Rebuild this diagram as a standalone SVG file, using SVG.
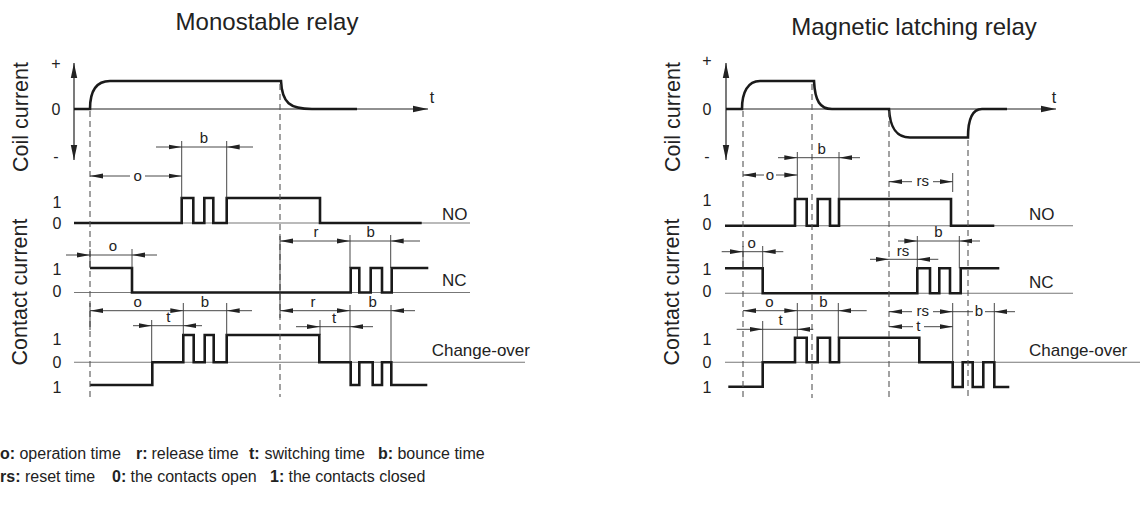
<svg xmlns="http://www.w3.org/2000/svg" width="1145" height="512" viewBox="0 0 1145 512">
<style>
text{font-family:"Liberation Sans",Arial,sans-serif;fill:#222}
.ttl{font-size:24px;text-anchor:middle}
.ax{font-size:21.5px;text-anchor:middle}
.lv{font-size:16px;text-anchor:middle}
.dt{font-size:15px;text-anchor:middle}
.nm{font-size:17px}
.lg{font-size:16px}
.lg .k{font-weight:bold}
.tr{fill:none;stroke:#1a1a1a;stroke-width:2.6;stroke-linejoin:miter}
.bl{stroke:#777;stroke-width:1.1;fill:none}
.axl{stroke:#222;stroke-width:1.2;fill:none}
.ds{stroke:#555;stroke-width:1.1;stroke-dasharray:6 4;fill:none}
.ex{stroke:#333;stroke-width:0.9;fill:none}
.dm{stroke:#333;stroke-width:0.9;fill:none}
.dm.a{marker-end:url(#ah)}
.dm.aa{marker-start:url(#ah);marker-end:url(#ah)}
.axl.a{marker-end:url(#big)}
.axl.aa{marker-start:url(#big);marker-end:url(#big)}
</style>
<defs>
<marker id="ah" markerUnits="userSpaceOnUse" markerWidth="14" markerHeight="6" refX="13" refY="3" orient="auto-start-reverse" viewBox="0 0 14 6"><path d="M0,0.6 L13,3 L0,5.4 z" fill="#222"/></marker>
<marker id="big" markerUnits="userSpaceOnUse" markerWidth="16" markerHeight="8" refX="15" refY="4" orient="auto-start-reverse" viewBox="0 0 16 8"><path d="M0,0.8 L15,4 L0,7.2 z" fill="#222"/></marker>
</defs>

<g id="titles">
<text class="ttl" x="267" y="30">Monostable relay</text>
<text class="ttl" x="914" y="35">Magnetic latching relay</text>
</g>

<!-- ============ LEFT: Monostable relay ============ -->
<g id="left-coil">
<text class="ax" transform="translate(28,117) rotate(-90)">Coil current</text>
<text class="lv" x="56" y="69">+</text>
<text class="lv" x="56" y="115">0</text>
<text class="lv" x="56" y="162">-</text>
<text class="lv" x="432" y="103">t</text>
<line class="axl aa" x1="74" y1="63" x2="74" y2="160"/>
<line class="axl a" x1="74" y1="109" x2="428" y2="109"/>
<path class="tr" d="M74,109 H90 C90,92 96,81 110,81 H281 C282,103 290,109 312,109 H357"/>
</g>

<g id="left-no">
<line class="bl" x1="74" y1="223" x2="470" y2="223"/>
<path class="tr" d="M74,223 H181.7 V198 H193.3 V223 H204.3 V198 H213.3 V223 H226.7 V198 H320 V223 H421.7"/>
<text class="lv" x="57" y="208">1</text>
<text class="lv" x="57" y="229">0</text>
<text class="nm" x="442" y="220">NO</text>
</g>

<g id="left-nc">
<line class="bl" x1="74" y1="292.5" x2="470" y2="292.5"/>
<path class="tr" d="M90,268 H132 V292.5 H350.7 V268 H359.3 V292.5 H370.7 V268 H382 V292.5 H391.7 V268 H428.3"/>
<text class="lv" x="57" y="275">1</text>
<text class="lv" x="57" y="297">0</text>
<text class="nm" x="442" y="286">NC</text>
</g>

<g id="left-co">
<text class="ax" transform="translate(27,292) rotate(-90)">Contact current</text>
<line class="bl" x1="74" y1="362.3" x2="525" y2="362.3"/>
<path class="tr" d="M90,385 H152.3 V362.3 H183.3 V335 H193.7 V362.3 H204.7 V335 H213.7 V362.3 H226.7 V335 H319.3 V362.3 H350.7 V385 H359.3 V362.3 H372.7 V385 H382 V362.3 H391.3 V385 H427.3"/>
<text class="lv" x="57" y="345">1</text>
<text class="lv" x="57" y="368">0</text>
<text class="lv" x="57" y="393">1</text>
<text class="nm" x="431.7" y="356">Change-over</text>
</g>

<!-- ============ RIGHT: Magnetic latching relay ============ -->
<g id="right-coil">
<text class="ax" transform="translate(680,117) rotate(-90)">Coil current</text>
<text class="lv" x="707" y="66">+</text>
<text class="lv" x="707" y="115">0</text>
<text class="lv" x="707" y="162">-</text>
<text class="lv" x="1054" y="103">t</text>
<line class="axl aa" x1="726" y1="63" x2="726" y2="160"/>
<line class="axl a" x1="726" y1="109" x2="1056" y2="109"/>
<path class="tr" d="M726,109 H742 C742,92 748,81 760,81 H814 C815,101 820,109 832,109 H889 C890,126 895,137.5 910,137.5 H968 C968,120 972,109 982,109 H1007"/>
</g>

<g id="right-no">
<line class="bl" x1="725" y1="225.7" x2="1073" y2="225.7"/>
<path class="tr" d="M725,225.7 H795 V199 H806.7 V225.7 H817.7 V199 H830 V225.7 H839 V199 H951 V225.7 H994.3"/>
<text class="lv" x="707" y="206">1</text>
<text class="lv" x="707" y="230">0</text>
<text class="nm" x="1029" y="219.5">NO</text>
</g>

<g id="right-nc">
<line class="bl" x1="725" y1="293.3" x2="1073" y2="293.3"/>
<path class="tr" d="M725,268.3 H762.7 V293.3 H917.3 V268.3 H930 V293.3 H939.3 V268.3 H950 V293.3 H960.7 V268.3 H999.3"/>
<text class="lv" x="707" y="275">1</text>
<text class="lv" x="707" y="297">0</text>
<text class="nm" x="1029" y="288">NC</text>
</g>

<g id="right-co">
<text class="ax" transform="translate(679,292) rotate(-90)">Contact current</text>
<line class="bl" x1="725" y1="362.3" x2="1140" y2="362.3"/>
<path class="tr" d="M728.3,386.7 H762.7 V362.3 H795 V337.7 H806.7 V362.3 H817.7 V337.7 H830 V362.3 H839 V337.7 H919.3 V362.3 H952.7 V387 H962.7 V362.3 H972.7 V387 H983.3 V362.3 H994.3 V387 H1009.3"/>
<text class="lv" x="707" y="345">1</text>
<text class="lv" x="707" y="368">0</text>
<text class="lv" x="707" y="393">1</text>
<text class="nm" x="1029" y="356">Change-over</text>
</g>

<!-- ============ Connectors: timing lines and dimensions ============ -->
<g id="connectors">
<line class="ds" x1="90" y1="111" x2="90" y2="397"/>
<line class="ds" x1="280" y1="84" x2="280" y2="397"/>
<line class="ds" x1="743" y1="111" x2="743" y2="398"/>
<line class="ds" x1="812" y1="84" x2="812" y2="398"/>
<line class="ds" x1="889" y1="111" x2="889" y2="398"/>
<line class="ds" x1="968" y1="140" x2="968" y2="398"/>

<!-- LEFT NO: b and o -->
<line class="ex" x1="181.7" y1="141" x2="181.7" y2="198"/>
<line class="ex" x1="226.7" y1="141" x2="226.7" y2="198"/>
<line class="dm a" x1="156" y1="147" x2="181.7" y2="147"/>
<line class="dm" x1="181.7" y1="147" x2="226.7" y2="147"/>
<line class="dm a" x1="253" y1="147" x2="226.7" y2="147"/>
<text class="dt" x="204" y="143">b</text>
<line class="dm a" x1="130" y1="176" x2="90" y2="176"/>
<line class="dm a" x1="145" y1="176" x2="181.7" y2="176"/>
<text class="dt" x="137.7" y="180.5">o</text>

<!-- LEFT NC: o, r, b -->
<line class="ex" x1="90" y1="249" x2="90" y2="268"/>
<line class="ex" x1="132" y1="249" x2="132" y2="268"/>
<line class="dm a" x1="66" y1="255" x2="90" y2="255"/>
<line class="dm" x1="90" y1="255" x2="132" y2="255"/>
<line class="dm a" x1="157" y1="255" x2="132" y2="255"/>
<text class="dt" x="113" y="251">o</text>
<line class="ex" x1="280" y1="236" x2="280" y2="318"/>
<line class="ex" x1="350" y1="235" x2="350" y2="268"/>
<line class="ex" x1="390.7" y1="235" x2="390.7" y2="268"/>
<line class="dm aa" x1="280" y1="241" x2="350" y2="241"/>
<line class="dm" x1="350" y1="241" x2="390.7" y2="241"/>
<line class="dm a" x1="420" y1="241" x2="390.7" y2="241"/>
<text class="dt" x="316" y="237">r</text>
<text class="dt" x="370.7" y="237">b</text>

<!-- LEFT Change-over -->
<line class="ex" x1="90" y1="303" x2="90" y2="330"/>
<line class="ex" x1="183.3" y1="303" x2="183.3" y2="335"/>
<line class="ex" x1="226.7" y1="303" x2="226.7" y2="335"/>
<line class="ex" x1="151.7" y1="320" x2="151.7" y2="362.3"/>
<line class="dm aa" x1="90" y1="310.7" x2="183.3" y2="310.7"/>
<line class="dm" x1="183.3" y1="310.7" x2="226.7" y2="310.7"/>
<line class="dm a" x1="252" y1="310.7" x2="226.7" y2="310.7"/>
<text class="dt" x="137.7" y="307">o</text>
<text class="dt" x="205" y="307">b</text>
<line class="dm a" x1="133" y1="325.7" x2="151.7" y2="325.7"/>
<line class="dm" x1="151.7" y1="325.7" x2="183.3" y2="325.7"/>
<line class="dm a" x1="202" y1="325.7" x2="183.3" y2="325.7"/>
<text class="dt" x="168.3" y="322">t</text>
<line class="ex" x1="350" y1="305" x2="350" y2="362.3"/>
<line class="ex" x1="391" y1="305" x2="391" y2="362.3"/>
<line class="ex" x1="320" y1="320" x2="320" y2="335"/>
<line class="dm aa" x1="280" y1="310.7" x2="350" y2="310.7"/>
<line class="dm" x1="350" y1="310.7" x2="391" y2="310.7"/>
<line class="dm a" x1="415" y1="310.7" x2="391" y2="310.7"/>
<text class="dt" x="313" y="307">r</text>
<text class="dt" x="372.7" y="307">b</text>
<line class="dm a" x1="296" y1="326.7" x2="320" y2="326.7"/>
<line class="dm" x1="320" y1="326.7" x2="350" y2="326.7"/>
<line class="dm a" x1="373" y1="326.7" x2="350" y2="326.7"/>
<text class="dt" x="334" y="323">t</text>

<!-- RIGHT NO: b, o, rs -->
<line class="ex" x1="797.3" y1="152" x2="797.3" y2="199"/>
<line class="ex" x1="839" y1="152" x2="839" y2="199"/>
<line class="dm a" x1="778" y1="157.7" x2="797.3" y2="157.7"/>
<line class="dm" x1="797.3" y1="157.7" x2="839" y2="157.7"/>
<line class="dm a" x1="860" y1="157.7" x2="839" y2="157.7"/>
<text class="dt" x="821.7" y="154">b</text>
<line class="dm a" x1="764" y1="175" x2="743" y2="175"/>
<line class="dm a" x1="776" y1="175" x2="797.3" y2="175"/>
<text class="dt" x="770" y="179.5">o</text>
<line class="ex" x1="952.7" y1="173" x2="952.7" y2="192"/>
<line class="dm a" x1="912" y1="181.7" x2="889" y2="181.7"/>
<line class="dm a" x1="933" y1="181.7" x2="952.7" y2="181.7"/>
<text class="dt" x="922.7" y="186.2">rs</text>

<!-- RIGHT NC: o, rs, b -->
<line class="ex" x1="743" y1="246" x2="743" y2="268"/>
<line class="ex" x1="762.7" y1="246" x2="762.7" y2="268.3"/>
<line class="dm a" x1="721.7" y1="251.7" x2="743" y2="251.7"/>
<line class="dm" x1="743" y1="251.7" x2="762.7" y2="251.7"/>
<line class="dm a" x1="783.3" y1="251.7" x2="762.7" y2="251.7"/>
<text class="dt" x="751.7" y="248">o</text>
<line class="ex" x1="917.3" y1="236" x2="917.3" y2="268.3"/>
<line class="ex" x1="959.3" y1="236" x2="959.3" y2="268.3"/>
<line class="dm a" x1="870" y1="259.3" x2="889" y2="259.3"/>
<line class="dm" x1="889" y1="259.3" x2="917.3" y2="259.3"/>
<line class="dm a" x1="938.3" y1="259.3" x2="917.3" y2="259.3"/>
<text class="dt" x="903" y="256">rs</text>
<line class="dm a" x1="898" y1="241" x2="917.3" y2="241"/>
<line class="dm" x1="917.3" y1="241" x2="959.3" y2="241"/>
<line class="dm a" x1="980" y1="241" x2="959.3" y2="241"/>
<text class="dt" x="938.3" y="237">b</text>

<!-- RIGHT Change-over -->
<line class="ex" x1="797.3" y1="303" x2="797.3" y2="337.7"/>
<line class="ex" x1="838.3" y1="303" x2="838.3" y2="337.7"/>
<line class="ex" x1="762.7" y1="321" x2="762.7" y2="362.3"/>
<line class="dm aa" x1="743" y1="310.7" x2="797.3" y2="310.7"/>
<line class="dm" x1="797.3" y1="310.7" x2="838.3" y2="310.7"/>
<line class="dm a" x1="866.7" y1="310.7" x2="838.3" y2="310.7"/>
<text class="dt" x="769.3" y="307">o</text>
<text class="dt" x="823.3" y="307">b</text>
<line class="dm a" x1="736.7" y1="329.3" x2="762.7" y2="329.3"/>
<line class="dm" x1="762.7" y1="329.3" x2="797.3" y2="329.3"/>
<line class="dm a" x1="813.3" y1="329.3" x2="797.3" y2="329.3"/>
<text class="dt" x="780.7" y="325">t</text>
<line class="ex" x1="952.7" y1="303" x2="952.7" y2="362.3"/>
<line class="ex" x1="994.3" y1="303" x2="994.3" y2="362.3"/>
<line class="dm a" x1="912" y1="311.7" x2="889" y2="311.7"/>
<line class="dm a" x1="933" y1="311.7" x2="952.7" y2="311.7"/>
<text class="dt" x="922.7" y="316.2">rs</text>
<line class="dm" x1="952.7" y1="311.7" x2="973" y2="311.7"/>
<line class="dm" x1="985" y1="311.7" x2="994.3" y2="311.7"/>
<line class="dm a" x1="1015" y1="311.7" x2="994.3" y2="311.7"/>
<text class="dt" x="979" y="316.2">b</text>
<line class="dm a" x1="913" y1="326.7" x2="889" y2="326.7"/>
<line class="dm a" x1="924" y1="326.7" x2="952.7" y2="326.7"/>
<text class="dt" x="918.3" y="331.2">t</text>
</g>

<g id="legend">
<text class="lg" y="459"><tspan class="k" x="0">o:</tspan><tspan x="15"> operation time</tspan><tspan class="k" x="136">r:</tspan><tspan x="147"> release time</tspan><tspan class="k" x="249">t:</tspan><tspan x="260"> switching time</tspan><tspan class="k" x="378">b:</tspan><tspan x="393"> bounce time</tspan></text>
<text class="lg" y="482"><tspan class="k" x="0">rs:</tspan><tspan x="20.5"> reset time</tspan><tspan class="k" x="112">0:</tspan><tspan x="126"> the contacts open</tspan><tspan class="k" x="270">1:</tspan><tspan x="284"> the contacts closed</tspan></text>
</g>
</svg>
